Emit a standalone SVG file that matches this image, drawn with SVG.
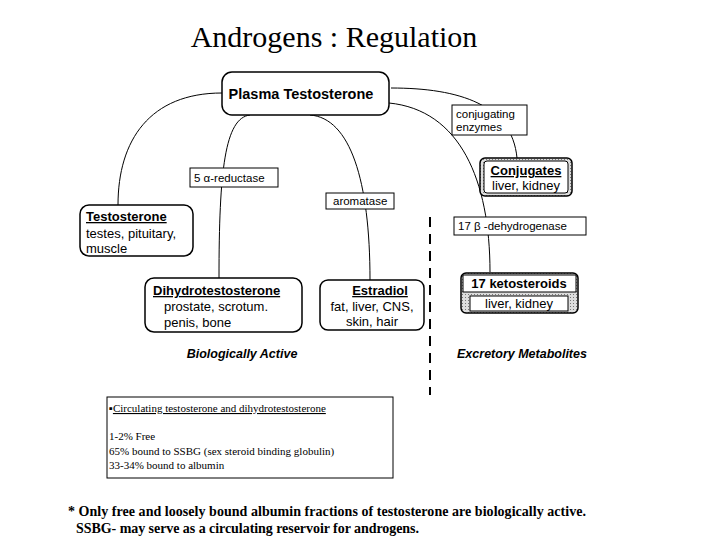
<svg xmlns="http://www.w3.org/2000/svg" width="720" height="540" viewBox="0 0 720 540">
<defs><pattern id="sh" width="3" height="3" patternUnits="userSpaceOnUse"><rect width="3" height="3" fill="#ddd"/><rect width="1" height="1" fill="#777"/></pattern></defs>
<style>
text{font-family:"Liberation Sans",Arial,sans-serif;fill:#000}
.s{font-family:"Liberation Serif","Times New Roman",serif}
.n{fill:#fff;stroke:#000;stroke-width:1.5}
.l{fill:#fff;stroke:#000;stroke-width:1}
.c{fill:none;stroke:#000;stroke-width:1}
.b{font-weight:bold;font-size:13px}
.t{font-size:13px}
.sm{font-size:11.5px}
</style>
<text class="s" x="334" y="47" font-size="30" text-anchor="middle">Androgens : Regulation</text>
<g id="connectors">
<path class="c" d="M222,93 C150,93 118,140 118,205"/>
<path class="c" d="M250,115 C225,118 219,170 219,278"/>
<path class="c" d="M310,115 C350,118 370,180 370,280"/>
<path class="c" d="M389,103 C460,110 490,180 490,272"/>
<path class="c" d="M391,88 C460,88 512,105 517,158"/>
<path fill="none" stroke="#000" stroke-width="2" stroke-dasharray="10,7" d="M430,217 V395"/>
</g>
<g id="plasma"><rect class="n" x="222" y="72" width="167" height="43" rx="10"/><text x="301" y="99" font-size="14.5" font-weight="bold" text-anchor="middle">Plasma Testosterone</text></g>
<g id="testosterone"><rect class="n" x="80" y="205" width="113" height="51" rx="9"/><text class="b" x="86" y="221" text-decoration="underline">Testosterone</text><text class="t" x="86" y="238">testes, pituitary,</text><text class="t" x="86" y="253">muscle</text></g>
<g id="dht"><rect class="n" x="145" y="278" width="157" height="54" rx="9"/><text class="b" x="153" y="295" text-decoration="underline">Dihydrotestosterone</text><text class="t" x="164" y="311">prostate, scrotum.</text><text class="t" x="164" y="327">penis, bone</text></g>
<g id="estradiol"><rect class="n" x="320" y="280" width="104" height="50" rx="8"/><text class="b" x="380" y="295" text-anchor="middle" text-decoration="underline">Estradiol</text><text class="t" x="372" y="311" text-anchor="middle">fat, liver, CNS,</text><text class="t" x="372" y="326" text-anchor="middle">skin, hair</text></g>
<g id="conjugates"><rect x="480" y="158" width="92" height="38" rx="5" fill="url(#sh)" stroke="#000" stroke-width="1.5"/><rect x="484" y="161" width="84" height="32" rx="3" fill="#fff" stroke="#000"/><text class="b" x="526" y="175" text-anchor="middle" text-decoration="underline">Conjugates</text><text class="t" x="526" y="190" text-anchor="middle">liver, kidney</text></g>
<g id="keto"><rect x="461" y="273" width="117" height="40" rx="5" fill="url(#sh)" stroke="#000" stroke-width="1.5"/><rect x="463" y="275" width="113" height="17" fill="#fff" stroke="#000"/><rect x="470" y="296" width="98" height="15" fill="#fff" stroke="#000"/><text class="b" x="519" y="288" text-anchor="middle">17 ketosteroids</text><text class="t" x="519" y="308" text-anchor="middle">liver, kidney</text></g>
<g id="lbl-conj"><rect class="l" x="452" y="105" width="75" height="30"/><text class="sm" x="456" y="118">conjugating</text><text class="sm" x="456" y="131">enzymes</text></g>
<g id="lbl-5a"><rect class="l" x="190" y="168" width="88" height="19"/><text class="sm" x="194" y="182">5 α-reductase</text></g>
<g id="lbl-arom"><rect class="l" x="326" y="193" width="68" height="16"/><text class="sm" x="333" y="205">aromatase</text></g>
<g id="lbl-17b"><rect class="l" x="454" y="217" width="132" height="18"/><text class="sm" x="458" y="230">17 β -dehydrogenase</text></g>
<text x="242" y="358" font-size="12.5" font-weight="bold" font-style="italic" text-anchor="middle">Biologically Active</text>
<text x="522" y="358" font-size="12.5" font-weight="bold" font-style="italic" text-anchor="middle">Excretory Metabolites</text>
<g id="info"><rect class="l" x="107" y="397" width="286" height="81"/>
<text class="s" x="109" y="412" font-size="11">▪<tspan text-decoration="underline">Circulating testosterone and dihydrotestosterone</tspan></text>
<text class="s" x="109" y="440" font-size="11">1-2% Free</text>
<text class="s" x="109" y="455" font-size="11">65% bound to SSBG (sex steroid binding globulin)</text>
<text class="s" x="109" y="469" font-size="11">33-34% bound to albumin</text></g>
<text class="s" x="68" y="516" font-size="14" font-weight="bold" textLength="518">* Only free and loosely bound albumin fractions of testosterone are  biologically active.</text>
<text class="s" x="76" y="533" font-size="14" font-weight="bold" textLength="343">SSBG- may serve as a circulating reservoir for androgens.</text>
</svg>
